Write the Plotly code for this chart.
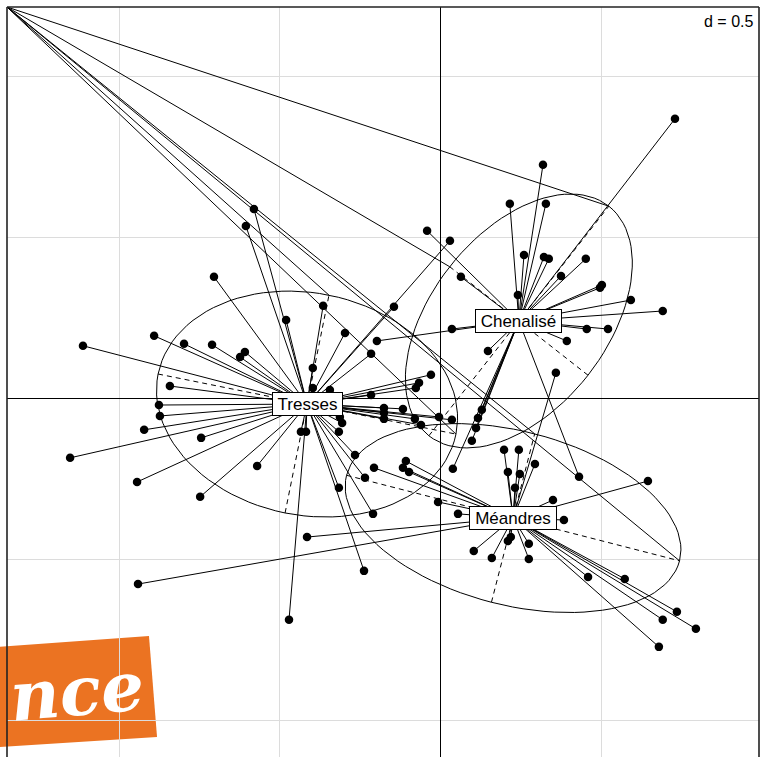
import numpy as np
import plotly.graph_objects as go

# ---- class centroids on the first factorial plane ----
classes = ["Tresses", "Chenalisé", "Méandres"]
center_x = [-0.416, 0.242, 0.224]
center_y = [-0.016, 0.242, -0.370]

# inertia ellipses: semi-axes and orientation of the first axis (degrees)
ell_a = [0.472, 0.453, 0.534]
ell_b = [0.345, 0.273, 0.270]
ell_angle = [-11.4, 51.9, -14.4]

# ---- site scores, grouped by channel pattern ----
tresses_x = [-0.581, -0.606, -0.705, -0.481, -0.366, -0.398, -0.398, -0.345, -0.298, -0.217,
             -0.146, 0.028, -0.031, -0.068, -0.078, -0.891, -1.112, -0.798, -0.711, -0.609,
             -0.624, -0.842, -0.876, -0.873, -0.922, -0.745, -1.152, -0.944, -0.748, -0.571,
             -0.435, -0.419, -0.472, -0.217, -0.177, -0.177, -0.177, -0.118, -0.081, -0.062,
             -0.006, 0.034, -0.314, -0.307, -0.317, -0.267, -0.236, -0.317, -0.211, -0.239]
tresses_y = [0.590, 0.537, 0.379, 0.245, 0.289, 0.096, 0.034, 0.028, 0.205, 0.140,
             0.286, 0.491, 0.075, 0.050, 0.034, 0.196, 0.165, 0.171, 0.168, 0.146,
             0.130, 0.040, -0.019, -0.053, -0.096, -0.121, -0.183, -0.258, -0.304, -0.208,
             -0.102, -0.102, -0.686, 0.012, -0.028, -0.043, -0.062, -0.031, -0.062, -0.081,
             -0.056, -0.065, -0.056, -0.075, -0.102, -0.174, -0.245, -0.276, -0.357, -0.534]

chenalise_x = [0.727, 0.317, 0.214, 0.326, -0.043, 0.062, 0.258, 0.320, 0.335, 0.450,
               0.373, 0.500, 0.494, 0.590, 0.689, 0.239, 0.034, -0.199, 0.453, 0.519,
               0.391, 0.146, 0.127, 0.115, 0.109, 0.096, 0.037, 0.429]
chenalise_y = [0.870, 0.727, 0.606, 0.606, 0.522, 0.379, 0.447, 0.441, 0.435, 0.435,
               0.382, 0.354, 0.345, 0.307, 0.273, 0.323, 0.217, 0.180, 0.217, 0.217,
               0.180, 0.149, -0.034, -0.059, -0.090, -0.130, -0.217, -0.242]

meandres_x = [0.196, 0.242, 0.208, 0.245, 0.292, 0.230, 0.643, 0.348, 0.053, 0.382,
              0.217, 0.208, 0.273, 0.102, 0.158, 0.273, 0.457, 0.571, 0.733, 0.689,
              0.792, 0.677, 0.357, -0.941, -0.416, -0.009, -0.208, -0.109, -0.118, -0.099]
meandres_y = [-0.158, -0.158, -0.227, -0.233, -0.202, -0.276, -0.255, -0.314, -0.357, -0.376,
              -0.429, -0.441, -0.450, -0.472, -0.494, -0.497, -0.553, -0.559, -0.661, -0.686,
              -0.714, -0.770, 0.081, -0.575, -0.429, -0.320, -0.214, -0.193, -0.214, -0.227]

groups_x = [tresses_x, chenalise_x, meandres_x]
groups_y = [tresses_y, chenalise_y, meandres_y]

# window of the plot and grid spacing
x_range = [-1.348, 0.988]
y_range = [-1.112, 1.217]
grid_step = 0.5
scale_label = "d = 0.5"

FONT = "Liberation Sans, Arial, Helvetica, sans-serif"
INK = "black"

fig = go.Figure()

# star segments: each site joined to its class centroid
for cx, cy, gx, gy in zip(center_x, center_y, groups_x, groups_y):
    sx, sy = [], []
    for px, py in zip(gx, gy):
        sx += [cx, px, None]
        sy += [cy, py, None]
    fig.add_trace(go.Scatter(x=sx, y=sy, mode="lines",
                             line=dict(color=INK, width=1), hoverinfo="skip"))

# ellipses, their dashed axes, and the rays from the upper-left corner
t = np.linspace(0, 2 * np.pi, 101)
corner = (x_range[0], y_range[1])
ray_x, ray_y = [], []
for cx, cy, a, b, ang in zip(center_x, center_y, ell_a, ell_b, ell_angle):
    th = np.deg2rad(ang)
    u = np.array([np.cos(th), np.sin(th)])
    v = np.array([-np.sin(th), np.cos(th)])
    ex = cx + a * np.cos(t) * u[0] + b * np.sin(t) * v[0]
    ey = cy + a * np.cos(t) * u[1] + b * np.sin(t) * v[1]
    fig.add_trace(go.Scatter(x=ex, y=ey, mode="lines",
                             line=dict(color=INK, width=1), hoverinfo="skip"))
    ax = [cx - a * u[0], cx + a * u[0], None, cx - b * v[0], cx + b * v[0]]
    ay = [cy - a * u[1], cy + a * u[1], None, cy - b * v[1], cy + b * v[1]]
    fig.add_trace(go.Scatter(x=ax, y=ay, mode="lines",
                             line=dict(color=INK, width=1, dash="5px,4px"),
                             hoverinfo="skip"))
    for end in (a * u, b * v):
        ray_x += [corner[0], cx + end[0], None]
        ray_y += [corner[1], cy + end[1], None]
fig.add_trace(go.Scatter(x=ray_x, y=ray_y, mode="lines",
                         line=dict(color=INK, width=1), hoverinfo="skip"))

# site points
all_x = [p for g in groups_x for p in g]
all_y = [p for g in groups_y for p in g]
fig.add_trace(go.Scatter(x=all_x, y=all_y, mode="markers",
                         marker=dict(color=INK, size=8.5, line=dict(width=0)),
                         hoverinfo="skip"))

# class labels in boxes at the centroids
label_w = {"Tresses": 67, "Chenalisé": 83, "Méandres": 84}
for name, cx, cy in zip(classes, center_x, center_y):
    fig.add_annotation(x=cx, y=cy, text=name, showarrow=False,
                       font=dict(family=FONT, size=17, color=INK),
                       bgcolor="white", bordercolor=INK, borderwidth=1,
                       borderpad=1, width=label_w[name], height=20)

fig.add_annotation(xref="paper", yref="paper", x=0.9945, y=0.981,
                   xanchor="right", yanchor="middle", text=scale_label,
                   showarrow=False, bgcolor="white",
                   font=dict(family=FONT, size=16, color=INK))

# plot frame (left, top, right)
for x0, y0, x1, y1 in [(0, 0, 0, 1), (0, 1, 1, 1), (1, 0, 1, 1)]:
    fig.add_shape(type="line", xref="paper", yref="paper", x0=x0, y0=y0,
                  x1=x1, y1=y1, line=dict(color="#222222", width=1.6))

# orange badge in the lower-left corner
fig.add_shape(type="path", xref="paper", yref="paper", layer="below",
              path="M -0.0093 0.147 L 0.1888 0.1613 L 0.1995 0.0267 L -0.0093 0.0133 Z",
              fillcolor="#EB7322", line=dict(width=0))
fig.add_annotation(xref="paper", yref="paper", x=0.19, y=0.088,
                   xanchor="right", yanchor="middle", text="<i><b>nce</b></i>",
                   showarrow=False, textangle=-5,
                   font=dict(family="DejaVu Serif, serif", size=68,
                             color="white"))

axis_common = dict(showticklabels=False, ticks="", showline=False,
                   gridcolor="#DCDCDC", gridwidth=1, dtick=grid_step, tick0=0,
                   zeroline=True, zerolinecolor=INK, zerolinewidth=1)
fig.update_xaxes(range=x_range, **axis_common)
fig.update_yaxes(range=y_range, **axis_common)

fig.update_layout(width=764, height=757, showlegend=False,
                  margin=dict(l=7, r=5, t=7, b=0, pad=0),
                  paper_bgcolor="white", plot_bgcolor="white")

fig.write_html("out.html")
